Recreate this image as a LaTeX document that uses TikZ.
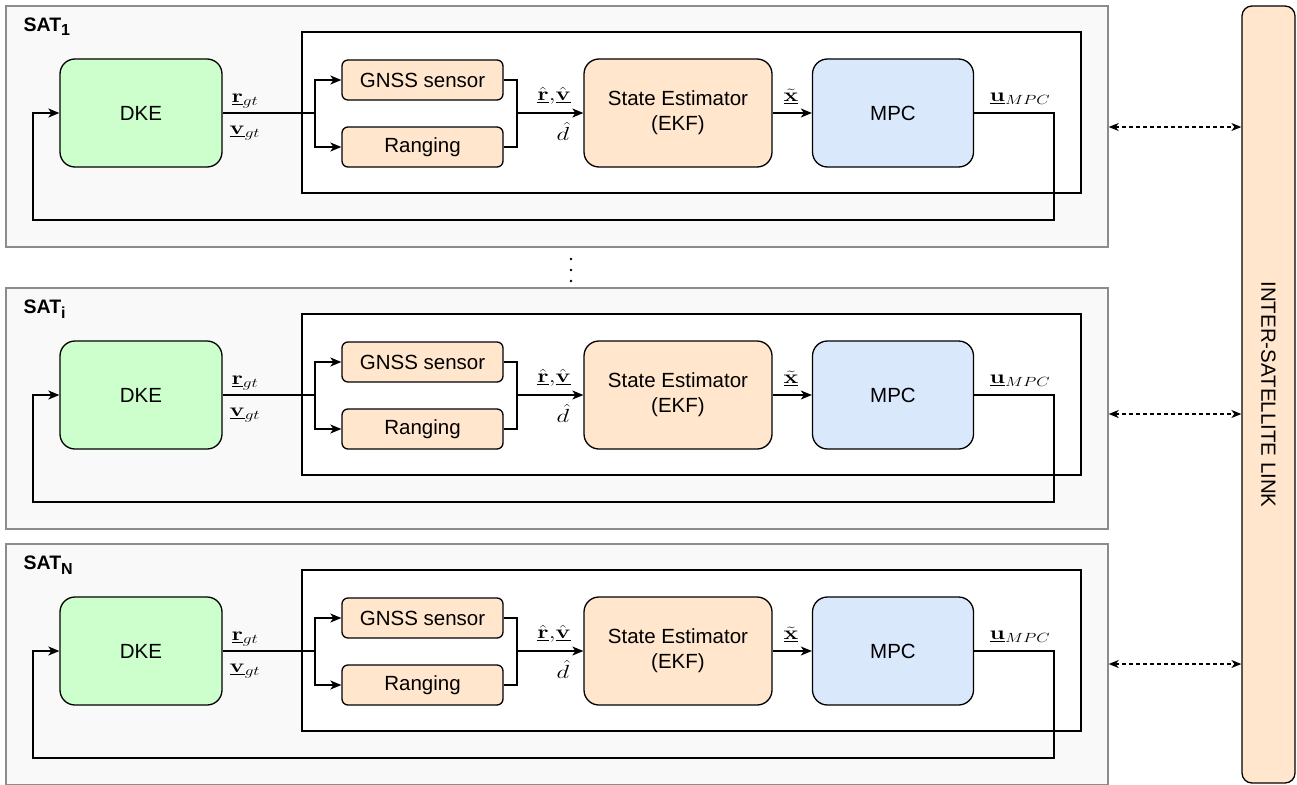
\RequirePackage{fix-cm}
\documentclass[tikz,border=0pt]{standalone}
\usepackage[no-math]{fontspec}
\usepackage{graphicx}
\setmainfont{Liberation Sans}
\usetikzlibrary{arrows.meta}

\definecolor{satfill}{HTML}{F9F9F9}
\definecolor{satline}{HTML}{8C8C8C}
\definecolor{dkefill}{HTML}{CCFFCC}
\definecolor{estfill}{HTML}{FFE6CC}
\definecolor{mpcfill}{HTML}{DAE8FC}

% signal names are set a little wide
\newcommand\sig[1]{\scalebox{1.3}[1]{$#1$}}

\tikzset{
  arr/.style={-{Stealth[length=11pt,width=9pt,inset=3pt]}},
  linkarrow/.style={dash pattern=on 4pt off 3pt,
    {Stealth[length=10pt,width=8pt,inset=3pt]}-{Stealth[length=10pt,width=8pt,inset=3pt]}},
  satbox/.style={draw=satline, fill=satfill, line width=1.4pt,
    minimum width=1102pt, minimum height=241pt, inner sep=0pt},
  corebox/.style={draw, fill=white, minimum width=779pt, minimum height=161pt, inner sep=0pt},
  bigblock/.style={draw, rounded corners=15pt, minimum height=108pt, inner sep=0pt,
    align=center, font=\fontsize{20.5}{25}\selectfont},
  smallblock/.style={draw, fill=estfill, rounded corners=6pt, minimum width=161pt,
    minimum height=40pt, inner sep=0pt, font=\fontsize{20.5}{25}\selectfont},
  mlabel/.style={inner sep=0pt, font=\fontsize{19}{22}\selectfont},
  sattitle/.style={anchor=base west, inner sep=0pt, font=\fontsize{19.5}{22}\selectfont\bfseries},
}

% One satellite: #1 vertical offset, #2 node id, #3 subscript, #4 link arrow height
\newcommand\satunit[4]{%
  \begin{scope}[yshift=-#1pt]
    \node[satbox] (sat#2) at (557,126.5) {};
    \node[sattitle] (title#2) at (23,31.5)
      {SAT\raisebox{-4.5pt}{\fontsize{16}{18}\selectfont #3}};
    \node[corebox] (core#2) at (691.5,112.5) {};
    \node[bigblock, fill=dkefill, minimum width=162pt] (dke#2) at (141,113) {DKE};
    \node[smallblock] (gnss#2) at (422.5,80) {GNSS sensor};
    \node[smallblock] (rng#2) at (422.5,147) {Ranging};
    \node[bigblock, fill=estfill, minimum width=188pt] (est#2) at (678,113)
      {State Estimator\\(EKF)};
    \node[bigblock, fill=mpcfill, minimum width=161pt] (mpc#2) at (893,113) {MPC};
    \coordinate (split#2) at (315,113);
    \coordinate (merge#2) at (517,113);
    \coordinate (fbA#2) at (1054,113);
    \coordinate (fbB#2) at (1054,220);
    \coordinate (fbC#2) at (33,220);
    \coordinate (fbD#2) at (33,113);
    % signal flow
    \draw (dke#2.east) -- (split#2);
    \draw[arr] (split#2) |- (gnss#2.west);
    \draw[arr] (split#2) |- (rng#2.west);
    \draw (gnss#2.east) -| (merge#2);
    \draw (rng#2.east) -| (merge#2);
    \draw[arr] (merge#2) -- (est#2.west);
    \draw[arr] (est#2.east) -- (mpc#2.west);
    \draw[arr] (mpc#2.east) -- (fbA#2) -- (fbB#2) -- (fbC#2) -- (fbD#2) -- (dke#2.west);
    % signal labels
    \node[mlabel] (lr#2) at (245,101) {\sig{\underline{\mathbf{r}}_{gt}}};
    \node[mlabel] (lv#2) at (245,133) {\sig{\underline{\mathbf{v}}_{gt}}};
    \node[mlabel] (lrv#2) at (554,96) {\sig{\underline{\hat{\mathbf{r}}}{,}\underline{\hat{\mathbf{v}}}}};
    \node[mlabel] (ld#2) at (563,131) {\sig{\hat{d}}};
    \node[mlabel] (lx#2) at (791,96) {\sig{\underline{\tilde{\mathbf{x}}}}};
    \node[mlabel] (lu#2) at (1020,99) {\sig{\underline{\mathbf{u}}_{MPC}}};
    % link to the inter-satellite channel
    \draw[linkarrow] (sat#2.east |- 0,#4) -- (link.west |- 0,#4);
  \end{scope}%
}

\begin{document}
\begin{tikzpicture}[x=1pt, y=-1pt, line width=1.3pt]
  \useasboundingbox (0,0) rectangle (1297,784);

  % shared inter-satellite link
  \node[draw, fill=estfill, rounded corners=10pt,
        minimum width=53pt, minimum height=777pt, inner sep=0pt] (link) at (1268.5,394.5) {};
  \node[rotate=-90, inner sep=0pt, font=\fontsize{20.5}{25}\selectfont] (linktext)
        at (link.center) {INTER-SATELLITE LINK};

  \satunit{0}{1}{1}{127}
  \satunit{282}{i}{i}{132}
  \satunit{538}{N}{N}{126}

  % vertical ellipsis between satellites
  \foreach \yy in {259,270,281}
    \fill (571,\yy) circle (1.3pt);
\end{tikzpicture}
\end{document}
